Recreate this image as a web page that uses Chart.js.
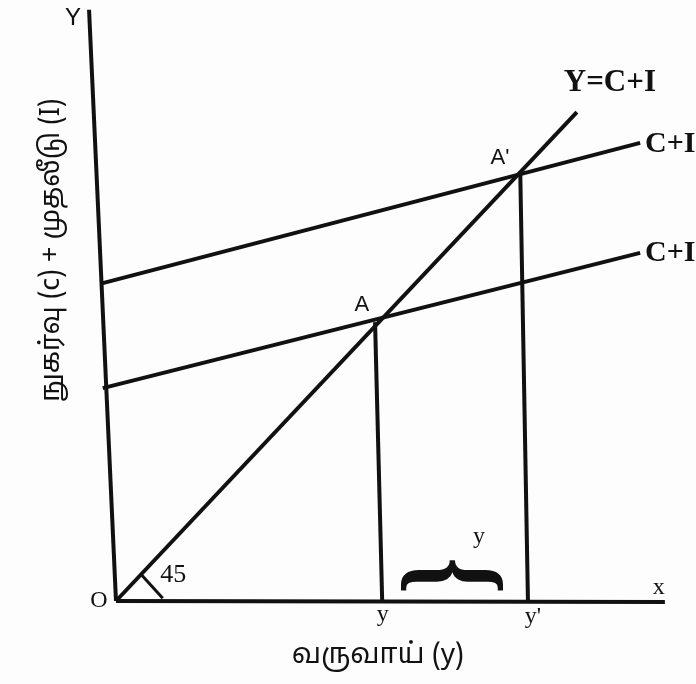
<!DOCTYPE html>
<html>
<head>
<meta charset="utf-8">
<script src="https://cdn.jsdelivr.net/npm/chart.js@4/dist/chart.umd.min.js"></script>
<style>
    html, body { margin: 0; padding: 0; background: #fefdfd; }
    #wrap { width: 696px; height: 684px; }
</style>
</head>
<body>
<div id="wrap"><canvas id="chart"></canvas></div>
<script>
// income (x) and consumption + investment (y)
const yAxisX = [0, -4.9];
const yAxisY = [0, 107.5];
const xAxisX = [0, 99.8];
const xAxisY = [0, -0.2];
const line45X = [0, 83.8];
const line45Y = [0, 88.9];
const ciLowX = [-2.4, 95.3];
const ciLowY = [38.7, 63.3];
const ciHighX = [-2.4, 95.3];
const ciHighY = [57.8, 83.3];
const dropAX = [47.1, 48.4];
const dropAY = [50.7, 0];
const dropA2X = [73.5, 74.9];
const dropA2Y = [78.0, 0];
const angleX = [4.7, 8.5];
const angleY = [4.7, 0.5];

const INK = '#111';
const serif = '"Liberation Serif", "DejaVu Serif", serif';
const sans = '"Liberation Sans", Arial, sans-serif';
const tamil = '"Noto Sans Tamil", "Lohit Tamil", "Noto Sans", sans-serif';

function pts(xs, ys) {
    return xs.map(function (x, i) { return { x: x, y: ys[i] }; });
}

function seg(xs, ys, w) {
    return {
        data: pts(xs, ys),
        showLine: true,
        borderColor: INK,
        borderWidth: w || 4,
        pointRadius: 0,
        fill: false
    };
}

// text labels placed in chart units
const labels = [
    { text: 'Y', x: -7.8, y: 106, font: '24px ' + sans },
    { text: 'Y=C+I', x: 89.8, y: 94.2, font: 'bold 31px ' + serif },
    { text: 'C+I', x: 96.2, y: 83.0, font: 'bold 30px ' + serif, align: 'left' },
    { text: 'C+I', x: 96.2, y: 63.3, font: 'bold 30px ' + serif, align: 'left' },
    { text: "A'", x: 69.8, y: 80.5, font: '22px ' + sans },
    { text: 'A', x: 44.7, y: 53.8, font: '22px ' + sans },
    { text: 'O', x: -3.1, y: 0, font: '24px ' + serif },
    { text: '45', x: 10.4, y: 4.7, font: '26px ' + serif },
    { text: 'y', x: 48.5, y: -2.5, font: '24px ' + serif },
    { text: "y'", x: 75.8, y: -2.9, font: '24px ' + serif },
    { text: 'x', x: 98.7, y: 2.5, font: '24px ' + serif },
    { text: 'y', x: 66, y: 11.6, font: '24px ' + serif },
    { text: 'வருவாய் (y)', x: 47.6, y: -10.2, font: '28px ' + tamil }
];
const yTitle = { text: 'நுகர்வு (c) + முதலீடு (I)', x: -11.4, y: 63.8, font: '27px ' + tamil };
const brace = { x: 60.7, y: 4.6 };

const labelPlugin = {
    id: 'labels',
    beforeDraw: function (chart) {
        const c = chart.ctx;
        c.save();
        c.fillStyle = '#fefdfd';
        c.fillRect(0, 0, chart.width, chart.height);
        c.restore();
    },
    afterDatasetsDraw: function (chart) {
        const c = chart.ctx;
        const sx = chart.scales.x, sy = chart.scales.y;
        c.save();
        c.fillStyle = INK;
        c.textBaseline = 'middle';
        labels.forEach(function (l) {
            c.font = l.font;
            c.textAlign = l.align || 'center';
            c.fillText(l.text, sx.getPixelForValue(l.x), sy.getPixelForValue(l.y));
        });

        // rotated y title
        c.save();
        c.translate(sx.getPixelForValue(yTitle.x), sy.getPixelForValue(yTitle.y));
        c.rotate(-Math.PI / 2);
        c.font = yTitle.font;
        c.textAlign = 'center';
        c.fillText(yTitle.text, 0, 0);
        c.restore();

        // curly brace over y..y'
        c.save();
        c.translate(sx.getPixelForValue(brace.x), sy.getPixelForValue(brace.y));
        c.scale(1.12, 0.85);
        c.rotate(Math.PI / 2);
        c.font = 'bold 110px ' + serif;
        c.textAlign = 'center';
        c.fillText('{', 0, 0);
        c.restore();

        c.restore();
    }
};

new Chart(document.getElementById('chart').getContext('2d'), {
    type: 'scatter',
    data: {
        datasets: [
            seg(yAxisX, yAxisY),
            seg(xAxisX, xAxisY),
            seg(line45X, line45Y),
            seg(ciLowX, ciLowY),
            seg(ciHighX, ciHighY),
            seg(dropAX, dropAY),
            seg(dropA2X, dropA2Y),
            seg(angleX, angleY, 3)
        ]
    },
    options: {
        responsive: true,
        maintainAspectRatio: false,
        animation: false,
        layout: { padding: { left: 83, right: 8, top: 7, bottom: 28 } },
        scales: {
            x: { type: 'linear', min: -6, max: 104, display: false },
            y: { type: 'linear', min: -10, max: 108, display: false }
        },
        plugins: {
            legend: { display: false },
            tooltip: { enabled: false }
        }
    },
    plugins: [labelPlugin]
});
</script>
</body>
</html>
